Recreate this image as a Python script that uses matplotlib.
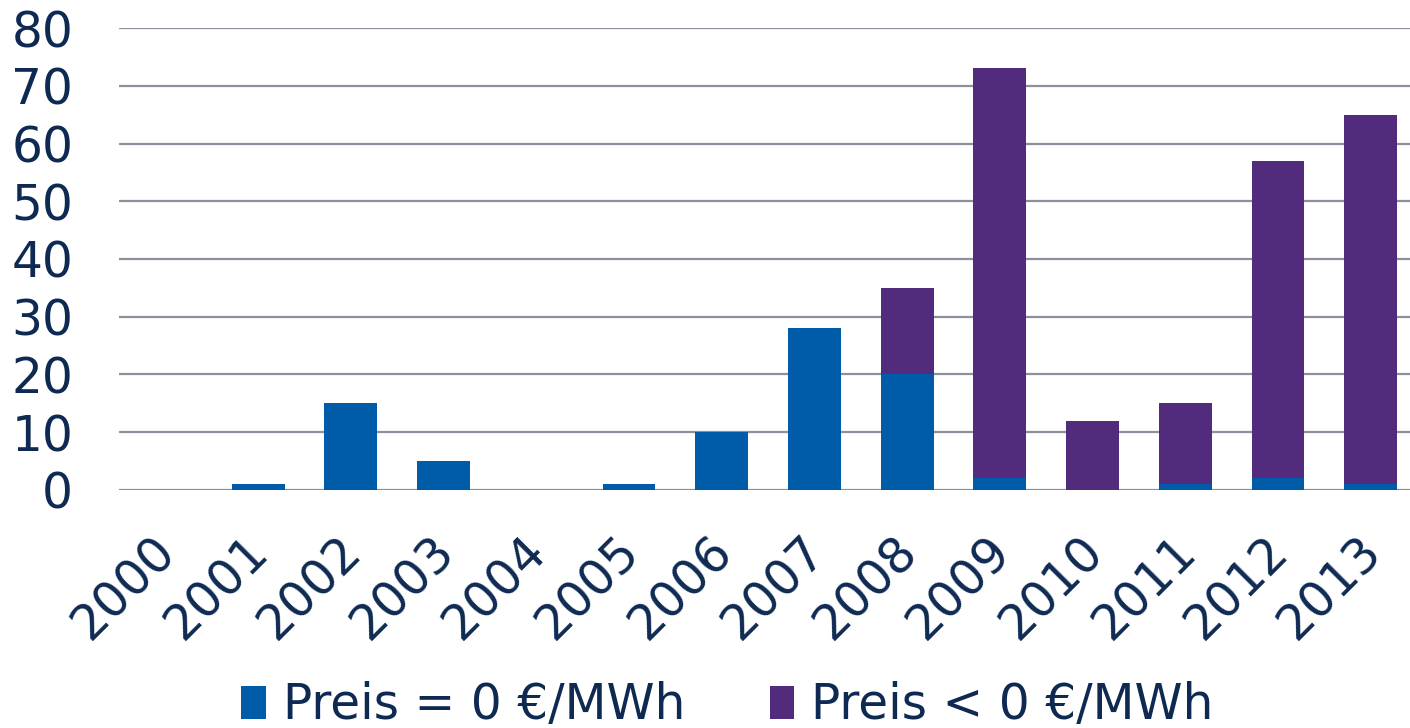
import numpy as np
import matplotlib.pyplot as plt
from matplotlib.transforms import ScaledTranslation

# Stunden mit Nullpreis bzw. negativem Preis je Jahr
years = ['2000', '2001', '2002', '2003', '2004', '2005', '2006',
         '2007', '2008', '2009', '2010', '2011', '2012', '2013']
zero_price = [0, 1, 15, 5, 0, 1, 10, 28, 20, 2, 0, 1, 2, 1]
neg_price = [0, 0, 0, 0, 0, 0, 0, 0, 15, 71, 12, 14, 55, 64]

blue = '#005ca9'
purple = '#532b7d'
textcol = '#0e2a52'
gridcol = '#8c909b'

plt.rcParams['font.family'] = 'DejaVu Sans'

fig = plt.figure(figsize=(14.1, 7.28), dpi=100)
ax = fig.add_axes([0.0844, 0.327, 0.9206, 0.6345])

x = np.arange(len(years))
ax.bar(x, zero_price, width=0.57, color=blue, label='Preis = 0 €/MWh', zorder=3)
ax.bar(x, neg_price, width=0.57, bottom=zero_price, color=purple,
       label='Preis < 0 €/MWh', zorder=3)

ax.set_xlim(-0.5, len(years) - 0.5)
ax.set_ylim(0, 80)
ax.set_yticks(range(0, 81, 10))
ax.yaxis.grid(True, color=gridcol, linewidth=1.6, zorder=0)
ax.set_axisbelow(True)
for s in ax.spines.values():
    s.set_visible(False)

ax.tick_params(axis='y', length=0, pad=33, labelsize=35, labelcolor=textcol)
ax.tick_params(axis='x', length=0, pad=27, labelsize=35, labelcolor=textcol)
ax.set_xticks(x)
ax.set_xticklabels(years, rotation=45, ha='right', rotation_mode='anchor')
for lbl in ax.get_xticklabels():
    lbl.set_transform(lbl.get_transform() + ScaledTranslation(-0.14, 0, fig.dpi_scale_trans))

leg = fig.legend(loc='lower center', bbox_to_anchor=(0.516, -0.062), ncol=2,
                 frameon=False, fontsize=35, handlelength=0.5, handleheight=0.65,
                 handletextpad=0.35, columnspacing=1.75)
for t in leg.get_texts():
    t.set_color(textcol)

fig.savefig('out.png', dpi=100)
